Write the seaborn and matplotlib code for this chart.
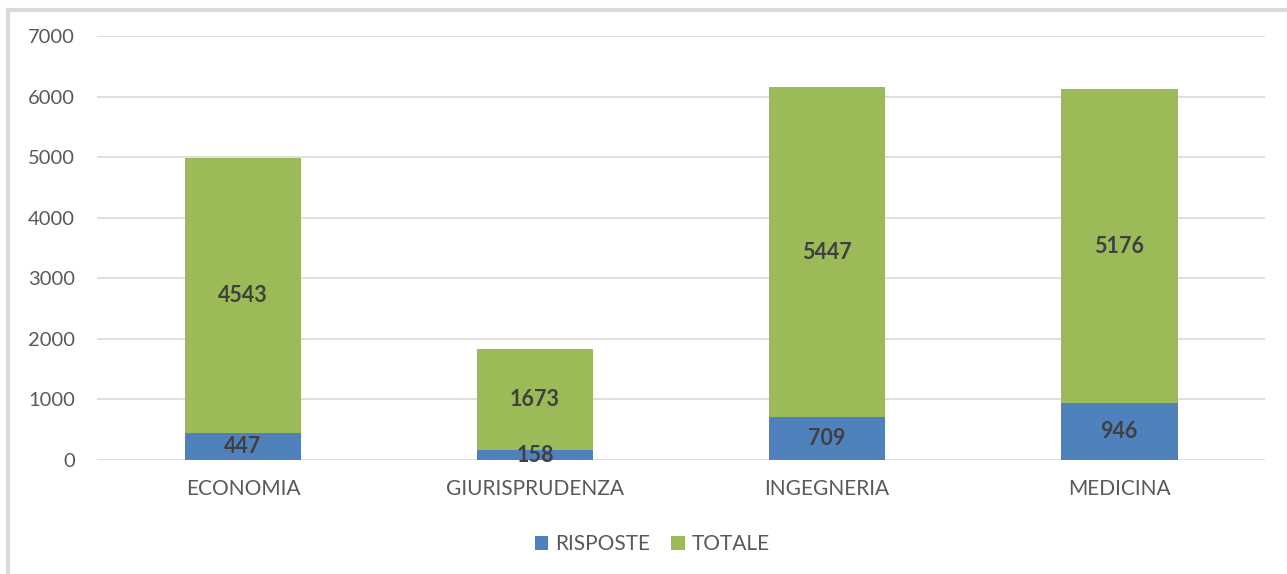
import seaborn as sns
import pandas as pd
import matplotlib.pyplot as plt
from matplotlib.patches import Rectangle

# data
facolta = ['ECONOMIA', 'GIURISPRUDENZA', 'INGEGNERIA', 'MEDICINA']
risposte = [447, 158, 709, 946]
totale = [4543, 1673, 5447, 5176]

blue = '#4f81bd'
green = '#9bbb59'
txt = '#595959'

df = pd.DataFrame({'facolta': facolta, 'RISPOSTE': risposte, 'TOTALE': totale})
df['cumul'] = df['RISPOSTE'] + df['TOTALE']

sns.set_style('white')
plt.rcParams['font.family'] = ['Lato', 'DejaVu Sans']

fig = plt.figure(figsize=(12.87, 5.74), dpi=100)
ax = fig.add_axes([0.0754, 0.1986, 0.9076, 0.7384])

# stacked: draw full height in green, then the blue base on top of it
sns.barplot(data=df, x='facolta', y='cumul', color=green, width=0.4,
            saturation=1, ax=ax, label='TOTALE', zorder=3, linewidth=0)
sns.barplot(data=df, x='facolta', y='RISPOSTE', color=blue, width=0.4,
            saturation=1, ax=ax, label='RISPOSTE', zorder=3, linewidth=0)
if ax.get_legend() is not None:
    ax.get_legend().remove()

# segment labels
for i in range(len(df)):
    r = df['RISPOSTE'][i]
    t = df['TOTALE'][i]
    ax.text(i, r / 2, str(r), ha='center', va='center', fontsize=15.5,
            fontweight='bold', color='#404040', zorder=5)
    ax.text(i, r + t / 2, str(t), ha='center', va='center', fontsize=15.5,
            fontweight='bold', color='#404040', zorder=5)

ax.set_ylim(0, 7000)
ax.set_xlim(-0.5, 3.5)
ax.set_yticks(range(0, 7001, 1000))
ax.yaxis.grid(True, color='#d9d9d9', linewidth=1.2, zorder=0)
ax.set_axisbelow(True)
for s in ax.spines.values():
    s.set_visible(False)
ax.set_xlabel('')
ax.set_ylabel('')
ax.tick_params(axis='both', length=0, labelcolor=txt)
ax.tick_params(axis='x', pad=14, labelsize=15)
ax.tick_params(axis='y', pad=16, labelsize=14.5)

# legend below, blue first
h, l = ax.get_legend_handles_labels()
order = [l.index('RISPOSTE'), l.index('TOTALE')]
fig.legend([h[k] for k in order], [l[k] for k in order], loc='center',
           bbox_to_anchor=(0.507, 0.052), ncol=2, frameon=False, fontsize=15,
           labelcolor=txt, handlelength=0.65, handleheight=0.65,
           handletextpad=0.35, columnspacing=1.0)

# light grey frame of the chart area (cropped screenshot)
fig.patches.append(Rectangle((0.0065, -0.1), 1.2, 1.083, transform=fig.transFigure,
                             fill=False, edgecolor='#d9d9d9', linewidth=3))

fig.savefig('out.png', dpi=100)
